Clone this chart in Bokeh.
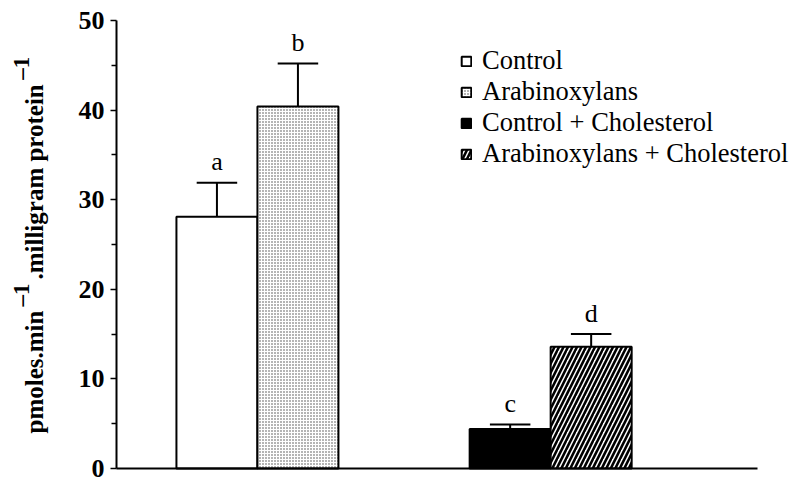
from bokeh.plotting import figure
from bokeh.models import ColumnDataSource, Legend, LegendItem, Label, Range1d, FixedTicker
from bokeh.core.properties import value
from bokeh.embed import file_html
from bokeh.resources import INLINE

# Enzyme activity per treatment group (mean and standard error)
groups = ["Control", "Arabinoxylans", "Control + Cholesterol", "Arabinoxylans + Cholesterol"]
means = [28.1, 40.4, 4.4, 13.6]
sem = [3.8, 4.8, 0.5, 1.4]
letters = ["a", "b", "c", "d"]
y_ticks = [0, 10, 20, 30, 40, 50]

SERIF = "Liberation Serif"
W, H = 794, 478

# Layout: two pairs of adjacent bars, one unit wide each; the axes sit at
# x = 0 and y = 0 inside a frame that fills the whole canvas.
pair_centres = [1.74, 5.36]
xs = [c + d for c in pair_centres for d in (-0.5, 0.5)]
x_axis_end = 7.91
px_per_x = 81.0          # pixels per bar width
px_per_y = 8.96          # pixels per unit of activity
left_px, bottom_px = 116, 10

fills = ["white", "white", "black", "white"]
hatches = [" ", ".", " ", "/"]
hatch_scales = [12, 3, 12, 9]
hatch_weights = [1, 1, 1, 2.6]
hatch_colors = ["black", "#444444", "black", "black"]

p = figure(width=W, height=H, output_backend="svg", toolbar_location=None,
           x_range=Range1d(-left_px / px_per_x, (W - left_px) / px_per_x),
           y_range=Range1d(-bottom_px / px_per_y, (H - bottom_px) / px_per_y),
           min_border_left=0, min_border_right=0, min_border_top=0, min_border_bottom=0)
p.outline_line_color = None
p.grid.visible = False
p.background_fill_color = "white"
p.border_fill_color = "white"

renderers = []
for i, g in enumerate(groups):
    src = ColumnDataSource(dict(x=[xs[i]], top=[means[i]]))
    r = p.vbar(x="x", top="top", bottom=0, width=1.0, source=src,
               fill_color=fills[i], line_color="black", line_width=2,
               hatch_pattern=hatches[i], hatch_scale=hatch_scales[i],
               hatch_weight=hatch_weights[i], hatch_color=hatch_colors[i])
    renderers.append(r)

# Upper error bars
upper = [m + e for m, e in zip(means, sem)]
cap_half = 0.25
p.segment(x0=xs, y0=means, x1=xs, y1=upper, line_color="black", line_width=2)
p.segment(x0=[x - cap_half for x in xs], y0=upper, x1=[x + cap_half for x in xs], y1=upper,
          line_color="black", line_width=2)

# Significance letters
p.text(x=xs, y=upper, text=letters, text_font=value(SERIF), text_font_size="26px",
       text_align="center", text_baseline="alphabetic", y_offset=-21, text_color="black")

# Axes, pinned at the origin
p.yaxis.fixed_location = 0
p.yaxis.bounds = (y_ticks[0], y_ticks[-1])
p.yaxis.ticker = FixedTicker(ticks=y_ticks, minor_ticks=[t + 5 for t in y_ticks[:-1]])
p.yaxis.major_label_text_font = SERIF
p.yaxis.major_label_text_font_style = "bold"
p.yaxis.major_label_text_font_size = "26px"
p.yaxis.major_label_text_color = "black"
p.yaxis.major_label_standoff = 6
p.yaxis.major_tick_out = 6
p.yaxis.major_tick_in = 0
p.yaxis.minor_tick_out = 5
p.yaxis.minor_tick_in = 0
p.yaxis.axis_line_width = 2
p.yaxis.major_tick_line_width = 1.5
p.yaxis.minor_tick_line_width = 1.5
p.yaxis.axis_line_color = "black"

p.xaxis.fixed_location = 0
p.xaxis.bounds = (0, x_axis_end)
p.xaxis.ticker = FixedTicker(ticks=[], minor_ticks=[])
p.xaxis.major_tick_line_color = None
p.xaxis.minor_tick_line_color = None
p.xaxis.axis_line_width = 2
p.xaxis.axis_line_color = "black"

# Legend
legend = Legend(items=[LegendItem(label=g, renderers=[r]) for g, r in zip(groups, renderers)],
                location=(460, 309), glyph_width=12, glyph_height=12, label_standoff=10,
                spacing=0, padding=0, margin=0, border_line_color=None,
                background_fill_alpha=0, label_text_font=SERIF, label_text_font_size="26.5px",
                label_text_color="black")
p.add_layout(legend)

# Rotated y-axis title with superscripts, built piecewise
# Liberation Serif Bold advance widths (per em)
adv = {"p": .556, "m": .833, "o": .5, "l": .278, "e": .444, "s": .389, ".": .25,
       "i": .278, "n": .556, "g": .5, "r": .444, "a": .5, "t": .333, " ": .25,
       "\u2013": .5, "1": .5}
def text_width(s, size):
    return sum(adv.get(ch, .5) for ch in s) * size

main_size, sup_size = 25, 23
base_x, raise_x, pad = 34, 13, 4
pieces = [("pmoles.min", False), ("\u20131", True), (".milligram protein", False), ("\u20131", True)]
y = 45
for txt, sup in pieces:
    size = sup_size if sup else main_size
    if sup:
        y += pad
    p.add_layout(Label(x=base_x - (raise_x if sup else 0), y=y, x_units="screen", y_units="screen",
                       text=txt, angle=1.5707963, text_font=SERIF, text_font_style="bold",
                       text_font_size=f"{size}px", text_align="left",
                       text_baseline="alphabetic", text_color="black"))
    y += text_width(txt, size) + (pad if sup else 0)

open("out.html", "w").write(file_html(p, INLINE))
